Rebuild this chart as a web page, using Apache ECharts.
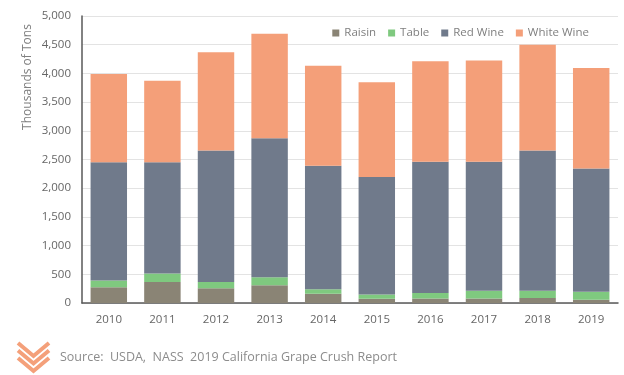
<!DOCTYPE html>
<html>
<head>
<meta charset="utf-8">
<script src="https://cdn.jsdelivr.net/npm/echarts@6/dist/echarts.min.js"></script>
<style>
  html, body { margin: 0; padding: 0; background: #fff; }
  #chart { width: 624px; height: 375px; }
</style>
</head>
<body>
<div id="chart"></div>
<script>
// values, thousands of tons
var years = ['2010', '2011', '2012', '2013', '2014', '2015', '2016', '2017', '2018', '2019']
var raisin = [275, 365, 255, 310, 160, 75, 80, 80, 85, 55]
var table = [115, 150, 110, 140, 80, 75, 95, 135, 130, 140]
var redWine = [2060, 1935, 2290, 2420, 2150, 2045, 2285, 2245, 2440, 2150]
var whiteWine = [1540, 1420, 1715, 1820, 1745, 1650, 1750, 1765, 1845, 1750]

var font = '"Open Sans", sans-serif'
var chart = echarts.init(document.getElementById('chart'))

function bar(name, data, color) {
    return {
        name: name,
        type: 'bar',
        stack: 'crush',
        data: data,
        barWidth: '68%',
        itemStyle: {color: color},
        emphasis: {disabled: true}
    }
}

// small striped chevron logo next to the source note
var logo = []
for (var i = 0; i < 3; i++) {
    logo.push({
        type: 'polyline',
        shape: {points: [[18, 343 + i * 7.5], [33.5, 356 + i * 7.5], [49, 343 + i * 7.5]]},
        style: {stroke: '#f4a07a', lineWidth: 4, fill: null}
    })
}

var option = {
    animation: false,
    textStyle: {fontFamily: font},
    legend: {
        top: 22,
        right: 30,
        itemWidth: 7,
        itemHeight: 7,
        itemGap: 12,
        icon: 'rect',
        textStyle: {color: '#7f7f7f', fontSize: 11.5, fontFamily: font},
        data: ['Raisin', 'Table', 'Red Wine', 'White Wine']
    },
    grid: {left: 82, right: 6, top: 16, bottom: 72},
    xAxis: {
        type: 'category',
        data: years,
        axisLine: {lineStyle: {color: '#595959', width: 1.5}},
        axisTick: {show: false},
        axisLabel: {color: '#666', fontSize: 11.5, margin: 11, fontFamily: font}
    },
    yAxis: {
        type: 'value',
        min: 0,
        max: 5000,
        interval: 500,
        axisLine: {show: true, lineStyle: {color: '#595959', width: 1.5}},
        axisLabel: {
            color: '#666', fontSize: 11.5, margin: 11, fontFamily: font,
            formatter: function (v) { return v.toLocaleString('en-US') }
        },
        splitLine: {lineStyle: {color: '#e3e3e3', width: 1}}
    },
    graphic: [
        {
            type: 'text',
            x: 28, y: 77,
            rotation: Math.PI / 2,
            style: {
                text: 'Thousands of Tons', fill: '#7f7f7f', font: '12px ' + font,
                align: 'center', verticalAlign: 'middle'
            }
        },
        {
            type: 'text',
            x: 60, y: 357,
            style: {
                text: 'Source:  USDA,  NASS  2019 California Grape Crush Report',
                fill: '#8c8c8c', font: '12.5px ' + font, verticalAlign: 'middle'
            }
        }
    ].concat(logo),
    series: [
        bar('Raisin', raisin, '#8a8475'),
        bar('Table', table, '#7fc97f'),
        bar('Red Wine', redWine, '#707a8b'),
        bar('White Wine', whiteWine, '#f49f79')
    ]
}

chart.setOption(option)
</script>
</body>
</html>
